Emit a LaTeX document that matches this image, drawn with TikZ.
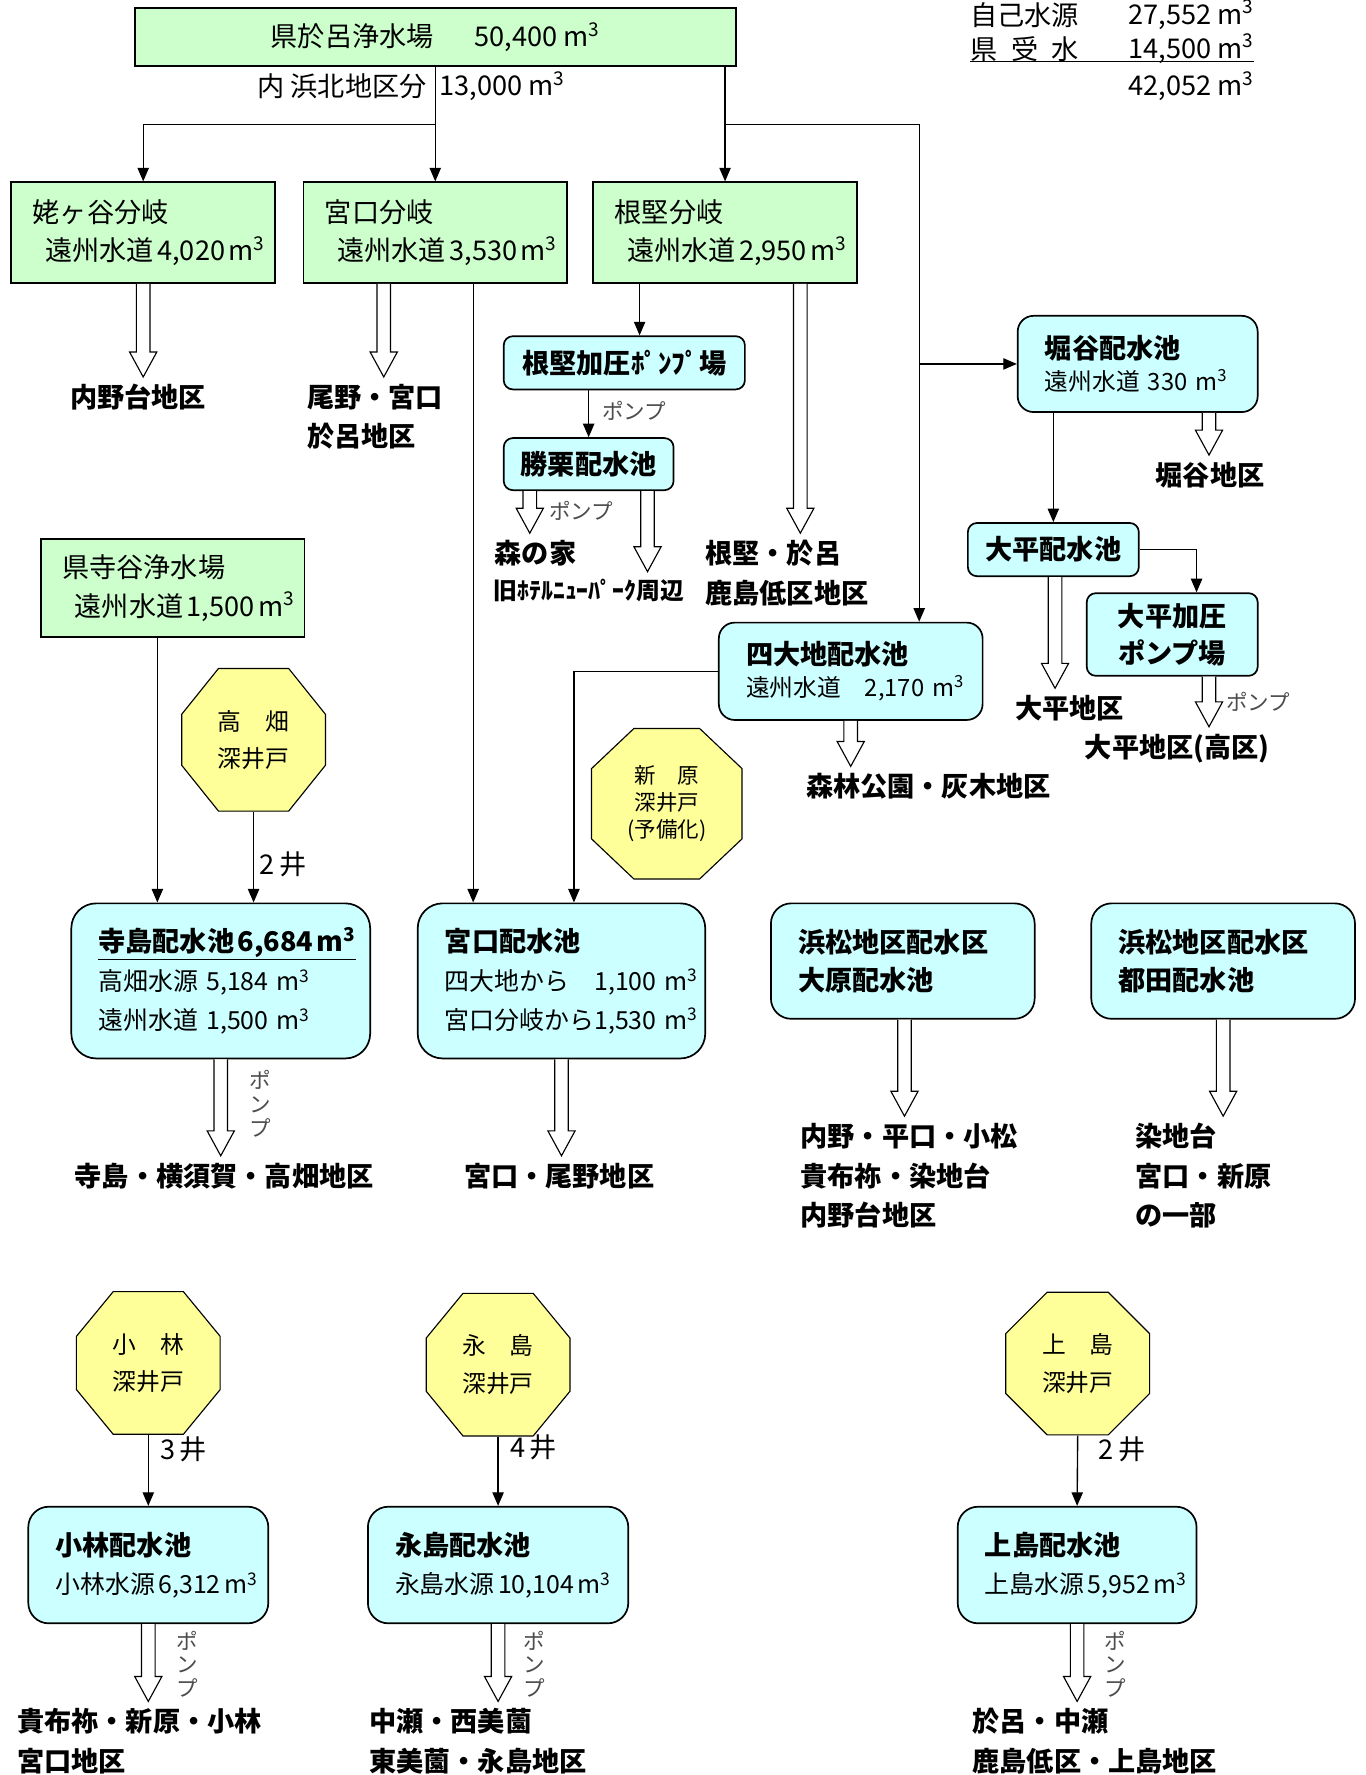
\documentclass[tikz,border=0pt]{standalone}
\usepackage{fontspec}
\setmainfont{Noto Sans CJK JP}
\usepackage{xcolor}
\usepackage{tikz}
\usetikzlibrary{arrows.meta, calc}

\definecolor{brgreen}{RGB}{204,255,204}
\definecolor{poolcyan}{RGB}{204,255,255}
\definecolor{wellyellow}{RGB}{255,255,153}

\newcommand\cbm{m\textsuperscript{3}}
\newcommand\gap{\kern3pt\relax}
\newcommand\bigtxt{\fontsize{24}{34}\selectfont}
\newcommand\subtxt{\fontsize{21}{28}\selectfont}
\newcommand\pumptxt{\fontsize{19}{21}\selectfont}

% hollow supply arrow: x from #1, tip just above node #2
\newcommand\pipe[2]{%
  \draw[pipeline] let \p1=#1, \p2=#2 in
    (\x1-6pt,\y1) -- (\x1-6pt,\y2+28pt) -- (\x1-12pt,\y2+28pt) -- (\x1,\y2+6pt)
    -- (\x1+12pt,\y2+28pt) -- (\x1+6pt,\y2+28pt) -- (\x1+6pt,\y1);}

\tikzset{
  branch/.style={draw, line width=1.5pt, fill=brgreen, align=left, inner xsep=19pt,
    text width=195pt, minimum height=89pt, font=\bigtxt},
  pool/.style={draw, line width=1.5pt, fill=poolcyan, rounded corners=14pt, align=left,
    inner xsep=24pt, font=\subtxt},
  pump/.style={draw, line width=1.5pt, fill=poolcyan, rounded corners=8pt, align=center,
    font=\bigtxt\bfseries},
  well/.style 2 args={minimum width=128pt, minimum height=127pt, inner sep=0pt, align=center,
    font=\fontsize{21}{33}\selectfont,
    path picture={\draw[fill=wellyellow, line width=1pt]
      ([xshift=#1, yshift=-.5pt]path picture bounding box.north west)
      -- ([xshift=-#1, yshift=-.5pt]path picture bounding box.north east)
      -- ([xshift=-.5pt, yshift=-#2]path picture bounding box.north east)
      -- ([xshift=-.5pt, yshift=#2]path picture bounding box.south east)
      -- ([xshift=-#1, yshift=.5pt]path picture bounding box.south east)
      -- ([xshift=#1, yshift=.5pt]path picture bounding box.south west)
      -- ([xshift=.5pt, yshift=#2]path picture bounding box.south west)
      -- ([xshift=.5pt, yshift=-#2]path picture bounding box.north west) -- cycle;}},
  area/.style={font=\fontsize{24}{35}\selectfont\bfseries, align=left, inner sep=0pt},
  plain/.style={font=\bigtxt, inner sep=0pt},
  pumplabel/.style={font=\pumptxt, text=black!70, inner sep=0pt},
  pipeline/.style={draw, fill=white, line width=1pt},
  flow/.style={->, line width=1.2pt},
}

\begin{document}
\begin{tikzpicture}[x=1pt, y=-1pt, >={Triangle[length=12pt, width=10pt]}]
  \path[use as bounding box, fill=white] (0,0) rectangle (1206,1568);

  % Sources and branches
  \node[draw, line width=1.5pt, fill=brgreen, minimum width=531pt, minimum height=51pt, font=\bigtxt]
    (orosrc) at (384.5,32.5) {県於呂浄水場\hspace{36pt}50,400 \cbm};
  \node[plain, anchor=east] (hamakita) at (377,76) {内\ 浜北地区分};
  \node[plain, anchor=west] (hamakitaval) at (388,76) {13,000 \cbm};

  \node[plain, anchor=west] (ownsrc) at (857,13) {自己水源};
  \node[plain, anchor=east] (ownval) at (1108,13) {27,552 \cbm};
  \node[plain, anchor=west] (kenrecv) at (857,43) {県\hspace{12pt}受\hspace{12pt}水};
  \node[plain, anchor=east] (kenval) at (1108,43) {14,500 \cbm};
  \node[plain, anchor=east] (total) at (1108,76) {42,052 \cbm};
  \draw[line width=1.5pt] (kenrecv.south west) -- (kenrecv.south west -| kenval.east);

  \node[branch] (ubagaya) at (126.5,205.5) {姥ヶ谷分岐\\\hspace*{11pt}遠州水道\gap 4,020\gap\cbm};
  \node[branch] (miyabr) at (384.5,205.5) {宮口分岐\\\hspace*{11pt}遠州水道\gap 3,530\gap\cbm};
  \node[branch] (negobr) at (640.5,205.5) {根堅分岐\\\hspace*{11pt}遠州水道\gap 2,950\gap\cbm};
  \node[branch, minimum height=87pt] (terayasrc) at (152.5,519.5) {県寺谷浄水場\\\hspace*{11pt}遠州水道\gap 1,500\gap\cbm};

  % Pump stations and pools
  \node[pump, minimum width=213pt, minimum height=47pt] (negopump) at (551.5,320.5) {根堅加圧ﾎﾟﾝﾌﾟ場};
  \node[pump, minimum width=150pt, minimum height=46pt] (katsu) at (520,410) {勝栗配水池};
  \node[pool, text width=164pt, minimum height=85pt] (horiya) at (1005,321.5)
    {{\bigtxt\bfseries 堀谷配水池}\\遠州水道~330~\cbm};
  \node[pump, minimum width=151pt, minimum height=47pt] (ohira) at (930.5,485.5) {大平配水池};
  \node[pump, minimum width=151pt, minimum height=73pt, font=\fontsize{24}{33}\selectfont\bfseries]
    (ohirapump) at (1035.5,560.5) {大平加圧\\ポンプ場};
  \node[pool, text width=185pt, minimum height=86pt] (shidai) at (751.5,593)
    {{\bigtxt\bfseries 四大地配水池}\\遠州水道　2,170~\cbm};

  \node[pool, text width=216pt, minimum height=137pt, rounded corners=22pt, font=\fontsize{22}{34.5}\selectfont]
    (terashima) at (195,866.5) {{\bigtxt\bfseries\underline{寺島配水池\gap 6,684\gap\cbm}}\\高畑水源~5,184~\cbm\\遠州水道~1,500~\cbm};
  \node[pool, text width=206pt, minimum height=137pt, rounded corners=22pt, font=\fontsize{22}{34.5}\selectfont]
    (miyapool) at (496,866.5) {{\bigtxt\bfseries 宮口配水池}\\四大地から　1,100~\cbm\\宮口分岐から1,530~\cbm};
  \node[pool, text width=185pt, minimum height=102pt, rounded corners=18pt, font=\bigtxt\bfseries]
    (ohara) at (797.5,849) {浜松地区配水区\\大原配水池};
  \node[pool, text width=185pt, minimum height=102pt, rounded corners=18pt, font=\bigtxt\bfseries]
    (miyakoda) at (1080.5,849) {浜松地区配水区\\都田配水池};

  \node[pool, text width=164pt, minimum height=103pt, rounded corners=18pt, font=\fontsize{22}{34}\selectfont]
    (kobapool) at (131,1382.5) {{\bigtxt\bfseries 小林配水池}\\小林水源\gap 6,312\gap\cbm};
  \node[pool, text width=182pt, minimum height=103pt, rounded corners=18pt, font=\fontsize{22}{34}\selectfont]
    (nagapool) at (440,1382.5) {{\bigtxt\bfseries 永島配水池}\\永島水源\gap 10,104\gap\cbm};
  \node[pool, text width=163pt, minimum height=103pt, rounded corners=18pt, font=\fontsize{22}{34}\selectfont]
    (kamipool) at (951.5,1382.5) {{\bigtxt\bfseries 上島配水池}\\上島水源\gap 5,952\gap\cbm};

  % Wells
  \node[well={33pt}{41pt}] (takabatake) at (224,653.5) {高　畑\\深井戸};
  \node[well={38pt}{36pt}, minimum width=134pt, minimum height=134pt, font=\fontsize{19}{24}\selectfont]
    (shinhara) at (589,710) {新　原\\深井戸\\(予備化)};
  \node[well={33pt}{40pt}] (kobawell) at (131,1204) {小　林\\深井戸};
  \node[well={33pt}{40pt}] (nagawell) at (440,1205.5) {永　島\\深井戸};
  \node[well={37pt}{37pt}] (kamiwell) at (952,1204.5) {上　島\\深井戸};

  % Areas
  \node[area, anchor=north] (uchinodai) at (122,339) {内野台地区};
  \node[area, anchor=north west] (onomiya) at (271,339) {尾野・宮口\\於呂地区};
  \node[area, anchor=north west] (negooro) at (623,477) {根堅・於呂\\鹿島低区地区};
  \node[area, anchor=north] (morinoie) at (473,477) {森の家};
  \node[area, anchor=north west, font=\fontsize{21}{30}\selectfont\bfseries] (hotel) at (436,511) {旧ﾎﾃﾙﾆｭｰﾊﾟｰｸ周辺};
  \node[area, anchor=north] (horiarea) at (1069,408) {堀谷地区};
  \node[area, anchor=north] (ohiraarea) at (945,614) {大平地区};
  \node[area, anchor=north] (ohirahigh) at (1040,648) {大平地区(高区)};
  \node[area, anchor=north] (shinrin) at (820,683) {森林公園・灰木地区};
  \node[area, anchor=north] (terarea) at (198,1027) {寺島・横須賀・高畑地区};
  \node[area, anchor=north] (miyarea) at (494,1027) {宮口・尾野地区};
  \node[area, anchor=north west] (oharaarea) at (707,992) {内野・平口・小松\\貴布祢・染地台\\内野台地区};
  \node[area, anchor=north west] (miyakodaarea) at (1003,992) {染地台\\宮口・新原\\の一部};
  \node[area, anchor=north west] (kobaarea) at (15,1509) {貴布祢・新原・小林\\宮口地区};
  \node[area, anchor=north west] (nagaarea) at (326,1509) {中瀬・西美薗\\東美薗・永島地区};
  \node[area, anchor=north west] (kamiarea) at (859,1509) {於呂・中瀬\\鹿島低区・上島地区};

  % Pump labels
  \node[pumplabel, anchor=west] (pumpnego) at (532,363) {ポンプ};
  \node[pumplabel, anchor=west] (pumpkatsu) at (485,451) {ポンプ};
  \node[pumplabel, anchor=west] (pumpohira) at (1083,620) {ポンプ};
  \node[pumplabel, align=center] (pumptera) at (230,975) {ポ\\ン\\プ};
  \node[pumplabel, align=center] (pumpkoba) at (165,1470) {ポ\\ン\\プ};
  \node[pumplabel, align=center] (pumpnaga) at (472,1470) {ポ\\ン\\プ};
  \node[pumplabel, align=center] (pumpkami) at (985,1470) {ポ\\ン\\プ};

  % Arrows
  \coordinate (tee1) at (384.5,110);
  \coordinate (tee2) at (640.5,110);
  \coordinate (bus) at (812,110);
  \draw[flow] (orosrc.south) -- (miyabr.north);
  \draw[flow] (tee1) -| (ubagaya.north);
  \draw[flow] (orosrc.south -| negobr.north) -- (negobr.north);
  \draw[flow] (tee2) -- (bus) -- (bus |- shidai.north);
  \draw[flow] (bus |- horiya.west) -- (horiya.west);
  \draw[flow] ([xshift=-75.5pt]negobr.south) -- ([xshift=-75.5pt]negobr.south |- negopump.north);
  \draw[flow] ([xshift=33.5pt]miyabr.south) -- ([xshift=33.5pt]miyabr.south |- miyapool.north);
  \draw[flow] ([xshift=-31.5pt]negopump.south) -- ([xshift=-31.5pt]negopump.south |- katsu.north);
  \draw[flow] (horiya.south -| ohira.north) -- (ohira.north);
  \draw[flow] (ohira.east) -| ([xshift=21.5pt]ohirapump.north);
  \draw[flow] (shidai.west) -| ([xshift=11pt]miyapool.north);
  \draw[flow] ([xshift=-13.5pt]terayasrc.south) -- ([xshift=-13.5pt]terayasrc.south |- terashima.north);
  \draw[flow] (takabatake.south) -- (takabatake.south |- terashima.north)
    node[pos=.58, right, plain, xshift=5pt] {2\,井};
  \draw[flow] (kobawell.south) -- (kobapool.north) node[pos=.2, right, plain, xshift=10pt] {3\,井};
  \draw[flow] (nagawell.south) -- (nagapool.north) node[pos=.16, right, plain, xshift=10pt] {4\,井};
  \draw[flow] (kamiwell.south) -- (kamipool.north) node[pos=.19, right, plain, xshift=18pt] {2\,井};

  \pipe{(ubagaya.south)}{(uchinodai.north)}
  \pipe{([xshift=-45.5pt]miyabr.south)}{(onomiya.north)}
  \pipe{([xshift=66.5pt]negobr.south)}{(negooro.north)}
  \pipe{([xshift=-52pt]katsu.south)}{(morinoie.north)}
  \pipe{([xshift=52pt]katsu.south)}{(hotel.north)}
  \pipe{([xshift=63pt]horiya.south)}{(horiarea.north)}
  \pipe{([xshift=1.5pt]ohira.south)}{(ohiraarea.north)}
  \pipe{([xshift=32.5pt]ohirapump.south)}{(ohirahigh.north)}
  \pipe{(shidai.south)}{(shinrin.north)}
  \pipe{(terashima.south)}{(terarea.north)}
  \pipe{(miyapool.south)}{(miyarea.north)}
  \pipe{([xshift=1.5pt]ohara.south)}{(oharaarea.north)}
  \pipe{(miyakoda.south)}{(miyakodaarea.north)}
  \pipe{(kobapool.south)}{(kobaarea.north)}
  \pipe{(nagapool.south)}{(nagaarea.north)}
  \pipe{(kamipool.south)}{(kamiarea.north)}
\end{tikzpicture}
\end{document}
